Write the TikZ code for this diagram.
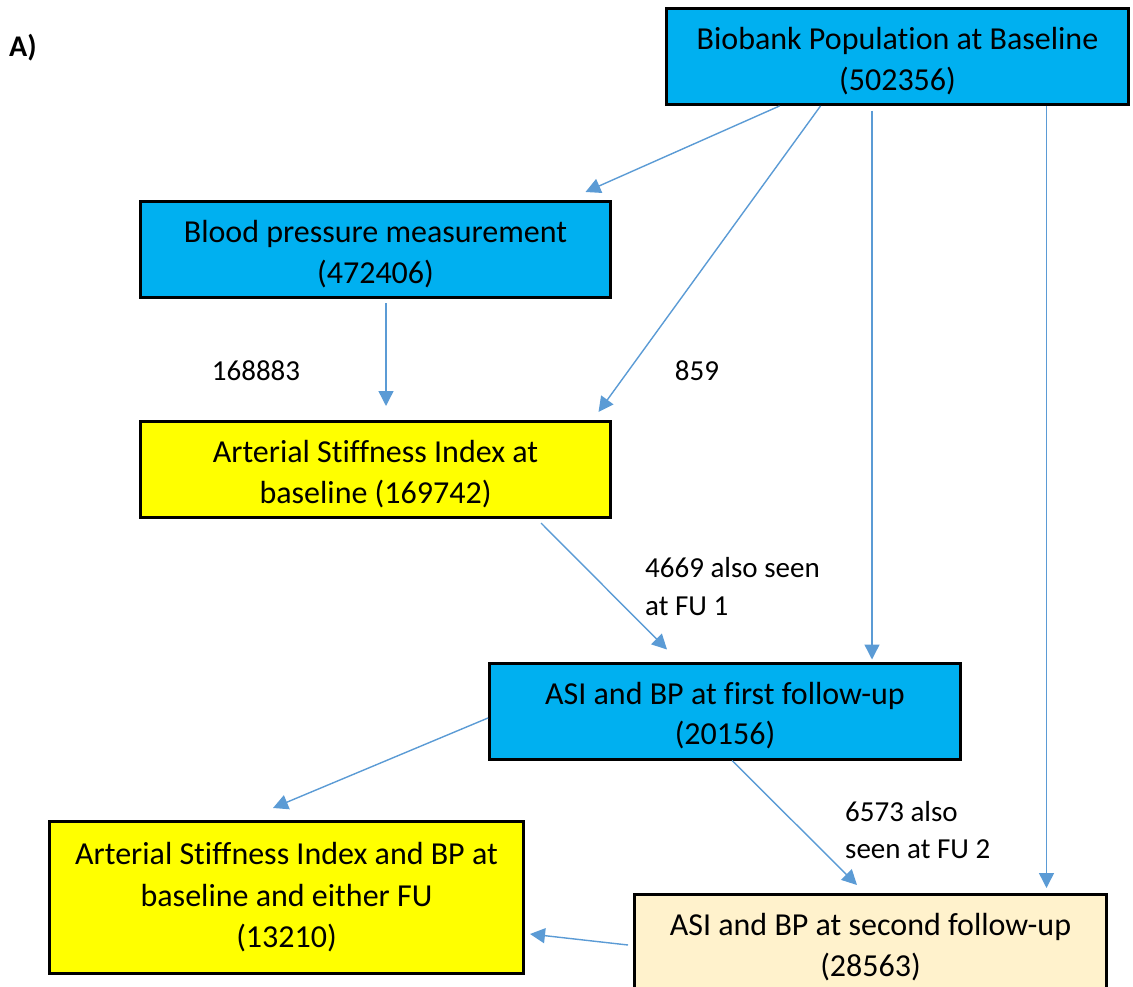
\documentclass[tikz,border=0pt]{standalone}
\usepackage{fontspec}
\setmainfont[Ligatures=CommonOff]{Carlito}
\usepackage{xcolor}
\usepackage{tikz}
\usetikzlibrary{positioning,calc,arrows.meta}

\definecolor{boxcyan}{HTML}{00B0F0}
\definecolor{boxyellow}{HTML}{FFFF00}
\definecolor{boxcream}{HTML}{FFF2CC}
\definecolor{arrblue}{HTML}{5B9BD5}
\newcommand{\boxstrut}{\rule{0pt}{31pt}}

\begin{document}
\begin{tikzpicture}[x=1pt,y=-1pt,
		box/.style={draw=black,line width=3pt,minimum height=96pt,inner sep=0pt,align=center,font=\fontsize{32}{40.5}\selectfont},
		arr/.style={-{Triangle[length=15pt,width=15pt]},draw=arrblue,fill=arrblue,line width=1.4pt},
		lbl/.style={inner sep=0pt,align=left,font=\fontsize{29}{37.5}\selectfont}]
		\useasboundingbox (0,0) rectangle (1133,987);
		
		\node[font=\fontsize{30}{36}\selectfont\bfseries,inner sep=0pt] (title) at (23,48) {A)};
		
		\node[box,fill=boxcyan,minimum width=462pt] (bio) at (897.5,56.5) {\boxstrut Biobank Population at Baseline\\(502356)};
		\node[box,fill=boxcyan,minimum width=470pt] (bpm) at (375.5,249.5) {\boxstrut Blood pressure measurement\\(472406)};
		\node[box,fill=boxyellow,minimum width=470pt,below=121pt of bpm] (asib) {\boxstrut Arterial Stiffness Index at\\baseline (169742)};
		\node[box,fill=boxcyan,minimum width=471pt] (fu1) at (725,711) {\boxstrut ASI and BP at first follow-up\\(20156)};
		\node[box,fill=boxyellow,minimum width=474pt,minimum height=152pt,font=\fontsize{32}{41.5}\selectfont] (either) at (286.5,897.5) {Arterial Stiffness Index and BP at\\baseline and either FU\\(13210)};
		\node[box,fill=boxcream,minimum width=472pt,font=\fontsize{32}{41.5}\selectfont] (fu2) at (870.5,942.5) {\boxstrut ASI and BP at second follow-up\\(28563)};
		
		\node[lbl] (n168883) at (256,371) {168883};
		\node[lbl] (n859) at (697,371) {859};
		\node[lbl,anchor=west] (n4669) at (645,586.5) {4669 also seen\\at FU 1};
		\node[lbl,anchor=west] (n6573) at (845,830) {6573 also\\seen at FU 2};
		
		\draw[arr] ([xshift=-118pt]bio.south)--([xshift=210pt,yshift=8pt]bpm.north);
		\draw[arr] ([xshift=-77pt]bio.south)--([xshift=223pt,yshift=8pt]asib.north);
		\draw[arr] ([xshift=-25.5pt,yshift=-5pt]bio.south)--([xshift=147pt,yshift=2pt]fu1.north);
		\draw[arr] ([xshift=149pt]bio.south)--([xshift=176pt,yshift=5pt]fu2.north);
		\draw[arr] ([xshift=10.5pt,yshift=-4pt]bpm.south)--([xshift=10.5pt,yshift=14pt]asib.north);
		\draw[arr] ([xshift=165.5pt,yshift=-4pt]asib.south)--([xshift=-58pt,yshift=12pt]fu1.north);
		\draw[arr] ([yshift=-7pt]fu1.west)--([xshift=-13.5pt,yshift=12pt]either.north);
		\draw[arr] ([xshift=7pt]fu1.south)--([xshift=-13.5pt,yshift=8pt]fu2.north);
		\draw[arr] ([xshift=-5pt,yshift=-2.5pt]fu2.west)--([xshift=5pt,yshift=-36.5pt]either.east);
	\end{tikzpicture}
\end{document}
